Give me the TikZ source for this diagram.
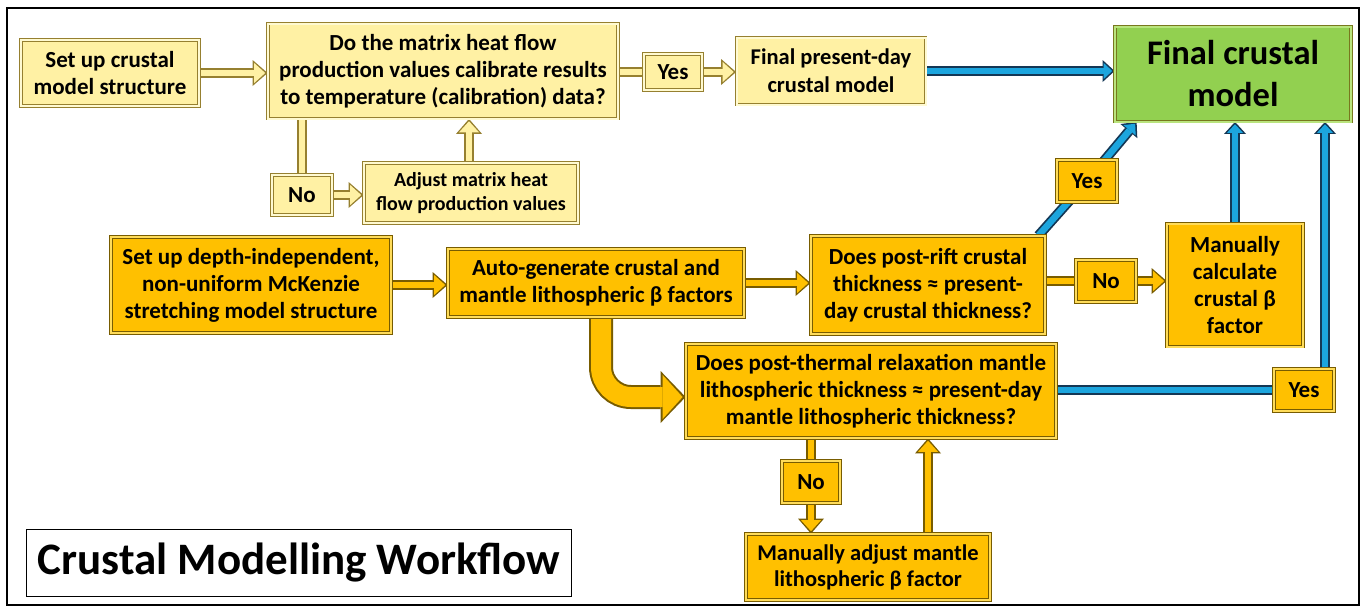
\documentclass[tikz,border=0pt]{standalone}
\usepackage{fontspec}
\setmainfont{Carlito}
\usetikzlibrary{arrows.meta,calc}
\definecolor{ylt}{RGB}{255,241,164}
\definecolor{yltb}{RGB}{150,128,48}
\definecolor{yltd}{RGB}{255,250,210}
\definecolor{gld}{RGB}{255,192,0}
\definecolor{gldb}{RGB}{120,92,0}
\definecolor{gldd}{RGB}{255,220,90}
\definecolor{grn}{RGB}{146,208,80}
\definecolor{grnb}{RGB}{120,120,30}
\definecolor{grnd}{RGB}{185,228,125}
\definecolor{blu}{RGB}{28,165,222}
\definecolor{blub}{RGB}{20,55,85}
\pgfdeclarelayer{back}
\pgfdeclarelayer{arr}
\pgfsetlayers{back,arr,main}
\tikzset{
  box/.style={rectangle, draw=#1b, fill=#1, double=#1d, double distance=2pt, line width=0.8pt,
    inner sep=0pt, align=center, font=\bfseries\fontsize{23}{27}\selectfont},
  ao/.style={draw=#1b, line width=10pt, -{Triangle[length=15pt,width=26pt,line width=0pt]}},
  ai/.style={draw=#1, line width=6.5pt, shorten >=2.4pt, -{Triangle[length=11pt,width=20pt,line width=0pt]}},
  lo/.style={draw=#1b, line width=10pt},
  li/.style={draw=#1, line width=6.5pt},
  bo/.style={draw=blub, line width=10pt, -{Triangle[length=12pt,width=22pt,line width=0pt]}},
  bi/.style={draw=blu, line width=6.5pt, shorten >=2.4pt, -{Triangle[length=8.5pt,width=16pt,line width=0pt]}},
  blo/.style={draw=blub, line width=10pt},
  bli/.style={draw=blu, line width=6.5pt},
  co/.style={draw=gldb, line width=24pt, rounded corners=30pt, -{Triangle[length=25pt,width=52pt,line width=0pt]}},
  ci/.style={draw=gld, line width=20pt, rounded corners=30pt, shorten >=3pt, -{Triangle[length=20pt,width=44pt,line width=0pt]}},
  frame/.style={draw=black, fill=white, line width=1.6pt},
  titlebox/.style={draw=black, fill=white, line width=1.2pt, inner sep=0pt, font=\bfseries\fontsize{45}{52}\selectfont}
}
\newcommand\Arr[2]{\draw[ao=#1] #2; \draw[ai=#1] #2;}
\newcommand\Lin[2]{\draw[lo=#1] #2; \draw[li=#1] #2;}
\newcommand\BArr[1]{\draw[bo] #1; \draw[bi] #1;}
\newcommand\BLin[1]{\draw[blo] #1; \draw[bli] #1;}
\newcommand\CArr[1]{\draw[co] #1; \draw[ci] #1;}
\begin{document}
\begin{tikzpicture}[x=1pt,y=-1pt]
\useasboundingbox (0,0) rectangle (1366,611);
\begin{pgfonlayer}{back}
\draw[frame] (7,8) rectangle (1359,605);
\end{pgfonlayer}

\node[box=ylt, minimum width=178pt, minimum height=66pt] (A) at (110,73) {Set up crustal\\model structure};
\node[box=ylt, minimum width=350pt, minimum height=95pt] (B) at (443,71) {Do the matrix heat flow\\production values calibrate results\\to temperature (calibration) data?};
\node[box=ylt, minimum width=58pt, minimum height=36pt] (Y1) at (673,72) {Yes};
\node[box=ylt, minimum width=189pt, minimum height=67pt, font=\bfseries\fontsize{22.5}{28}\selectfont] (C) at (831,71) {Final present-day\\crustal model};
\node[box=grn, minimum width=236pt, minimum height=95pt, font=\bfseries\fontsize{34.5}{42}\selectfont] (D) at (1233,74) {Final crustal\\model};
\node[box=ylt, minimum width=60pt, minimum height=40pt] (N1) at (302,195) {No};
\node[box=ylt, minimum width=214pt, minimum height=60pt, font=\bfseries\fontsize{20}{24.5}\selectfont] (E) at (471,193) {Adjust matrix heat\\flow production values};
\node[box=gld, minimum width=280pt, minimum height=96pt] (F) at (251,285) {Set up depth-independent,\\non-uniform McKenzie\\stretching model structure};
\node[box=gld, minimum width=296pt, minimum height=68pt] (G) at (596,283) {Auto-generate crustal and\\mantle lithospheric β factors};
\node[box=gld, minimum width=234pt, minimum height=98pt] (H) at (928,285) {Does post-rift crustal\\thickness ≈ present-\\day crustal thickness?};
\node[box=gld, minimum width=60pt, minimum height=42pt] (N2) at (1106,281) {No};
\node[box=gld, minimum width=136pt, minimum height=123pt] (I) at (1235,285) {Manually\\calculate\\crustal β\\factor};
\node[box=gld, minimum width=60pt, minimum height=42pt] (Y2) at (1087,181) {Yes};
\node[box=gld, minimum width=370pt, minimum height=94pt] (J) at (871,391) {Does post-thermal relaxation mantle\\lithospheric thickness ≈ present-day\\mantle lithospheric thickness?};
\node[box=gld, minimum width=60pt, minimum height=42pt] (Y3) at (1304,390) {Yes};
\node[box=gld, minimum width=58pt, minimum height=42pt] (N3) at (811,482) {No};
\node[box=gld, minimum width=244pt, minimum height=66pt, font=\bfseries\fontsize{22.5}{26}\selectfont] (K) at (868,567) {Manually adjust mantle\\lithospheric β factor};
\node[titlebox, minimum width=545pt, minimum height=67pt] (T) at (299,563) {Crustal Modelling Workflow};

\coordinate (eN) at ([xshift=-2pt]E.north);
\coordinate (hC) at ([xshift=-7pt]H.north east);
\coordinate (dC) at ([xshift=22pt]D.south west);
\coordinate (y3t) at ([xshift=21pt]Y3.north);
\coordinate (gS) at ([xshift=5pt]G.south);
\coordinate (jW) at ([yshift=-6pt]J.west);
\coordinate (kN) at ([xshift=60pt]K.north);

\begin{pgfonlayer}{arr}
\Arr{ylt}{(A.east) -- (A.east -| B.west)}
\Lin{ylt}{(Y1.west -| B.east) -- (Y1.west)}
\Arr{ylt}{(Y1.east) -- (Y1.east -| C.west)}
\BArr{(C.east) -- (C.east -| D.west)}
\Lin{ylt}{(N1.north |- B.south) -- (N1.north)}
\Arr{ylt}{(N1.east) -- (N1.east -| E.west)}
\Arr{ylt}{(eN) -- (eN |- B.south)}
\Arr{gld}{(F.east) -- (F.east -| G.west)}
\Arr{gld}{(G.east) -- (G.east -| H.west)}
\Lin{gld}{(N2.west -| H.east) -- (N2.west)}
\Arr{gld}{(N2.east) -- (N2.east -| I.west)}
\BLin{(hC) -- (Y2.center)}
\BArr{(Y2.center) -- (dC)}
\BArr{(I.north) -- (I.north |- D.south)}
\BLin{(Y3.west -| J.east) -- (Y3.west)}
\BArr{(y3t) -- (y3t |- D.south)}
\CArr{(gS) |- (jW)}
\Lin{gld}{(N3.north |- J.south) -- (N3.north)}
\Arr{gld}{(N3.south) -- (N3.south |- K.north)}
\Arr{gld}{(kN) -- (kN |- J.south)}
\end{pgfonlayer}
\end{tikzpicture}
\end{document}
